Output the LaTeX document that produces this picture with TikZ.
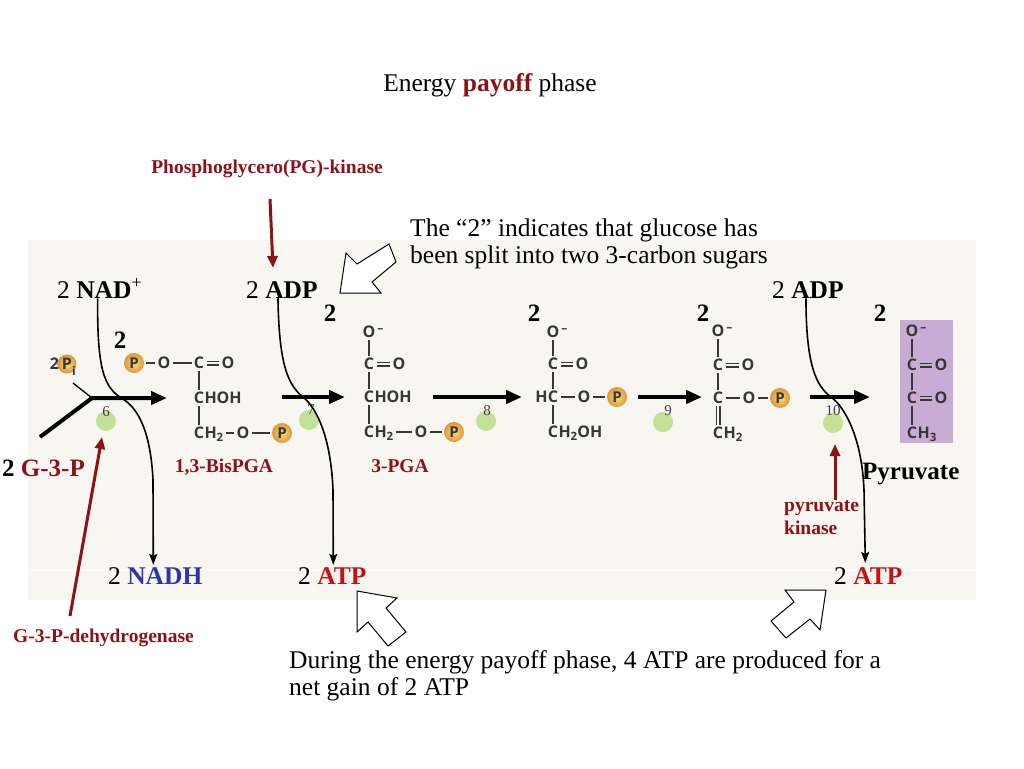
\documentclass[tikz,border=0pt]{standalone}
\usepackage{fontspec}
\setmainfont{Liberation Serif}
\newfontfamily\chemfont{Open Sans}
\usetikzlibrary{arrows.meta}
\definecolor{panelc}{RGB}{247,246,241}
\definecolor{darkred}{RGB}{140,18,24}
\definecolor{atpred}{RGB}{200,16,16}
\definecolor{nadhblue}{RGB}{52,52,170}
\definecolor{chemgray}{RGB}{55,55,55}
\definecolor{greenball}{RGB}{196,224,150}
\definecolor{purplebox}{RGB}{201,172,214}
\definecolor{pyel}{RGB}{250,222,120}
\definecolor{pora}{RGB}{222,150,60}
\newcommand{\chsub}[1]{\raisebox{-3pt}{\fontsize{11.5}{12}\selectfont #1}}
\newcommand{\chminus}{\rlap{\raisebox{5.5pt}{\fontsize{12}{12}\selectfont\,–}}}
\tikzset{
  atom/.style={font=\chemfont\bfseries\fontsize{16}{16}\selectfont, text=chemgray, inner sep=0pt, text height=11.4pt, text depth=0pt},
  pball/.style={circle, minimum size=20pt, inner sep=0pt, shading=radial, inner color=pyel, outer color=pora, font=\chemfont\bfseries\fontsize{15}{15}\selectfont, text=chemgray},
  gball/.style={circle, minimum size=20pt, inner sep=0pt, fill=greenball},
  bond/.style={line width=1.5pt, draw=chemgray, shorten <=2.2pt, shorten >=2.2pt},
  dbond/.style={line width=1.3pt, draw=chemgray, double=panelc, double distance=2.4pt, shorten <=2.2pt, shorten >=2.2pt},
  rxn/.style={line width=4pt, -{Triangle[length=16pt,width=13pt]}},
  curve/.style={line width=1.6pt, -{Stealth[length=11pt,width=8pt,inset=2pt]}},
  enz/.style={line width=3pt, draw=darkred, -{Triangle[length=12pt,width=10pt]}},
  txt/.style={inner sep=0pt, font=\fontsize{25.5}{27}\selectfont},
  lab/.style={inner sep=0pt, font=\bfseries\fontsize{19.5}{23}\selectfont, text=darkred},
  two/.style={inner sep=0pt, font=\bfseries\fontsize{25}{27}\selectfont},
  num/.style={inner sep=0pt, font=\fontsize{15}{15}\selectfont, text=black!75},
  hollow/.style={draw=black, line width=1pt, fill=white, line join=miter}
}
\begin{document}
\begin{tikzpicture}[x=1pt,y=-1pt]
\useasboundingbox (0,0) rectangle (1024,768);
\fill[white] (0,0) rectangle (1024,768);
\fill[panelc] (28,240) rectangle (976,600);
\fill[panelc!55!white] (28,569) rectangle (976,571);
\fill[purplebox] (900,320) rectangle (953,443);

% titles and notes
\node[txt, anchor=base] (title) at (490,91) {Energy \textbf{\textcolor{darkred}{payoff}} phase};
\node[lab, anchor=base] (pgk) at (267,173) {Phosphoglycero(PG)-kinase};
\node[txt, anchor=base west, align=left] (note1) at (410,263) {The “2” indicates that glucose has\\been split into two 3-carbon sugars};
\node[txt, anchor=base west, align=left] (note2) at (289,695) {During the energy payoff phase, 4 ATP are produced for a\\net gain of 2 ATP};

% cofactor labels
\node[txt, anchor=base west] (nad) at (57,298) {2 \textbf{NAD}\textsuperscript{+}};
\node[txt, anchor=base west] (adp1) at (246,298) {2 \textbf{ADP}};
\node[txt, anchor=base west] (adp2) at (772,298) {2 \textbf{ADP}};
\node[txt, anchor=base west] (nadh) at (108,584) {2 \textbf{\textcolor{nadhblue}{NADH}}};
\node[txt, anchor=base west] (atp1) at (298,584) {2 \textbf{\textcolor{atpred}{ATP}}};
\node[txt, anchor=base west] (atp2) at (834,584) {2 \textbf{\textcolor{atpred}{ATP}}};

% compound labels
\node[two, anchor=base west] (g3p) at (2,476) {2 \textcolor{darkred}{G-3-P}};
\node[lab, anchor=base] (bispga) at (224,472) {1,3-BisPGA};
\node[lab, anchor=base] (pga) at (400,472) {3-PGA};
\node[two, anchor=base west] (pyr) at (862,479) {Pyruvate};
\node[lab, anchor=base west, align=left, font=\bfseries\fontsize{19.5}{23}\selectfont] (pk) at (784,534) {pyruvate\\kinase};
\node[lab, anchor=base west] (g3pdh) at (13,642) {G-3-P-dehydrogenase};

% bold 2s
\node[two, anchor=base] (t0) at (120,348) {2};
\node[two, anchor=base] (t1) at (330,321) {2};
\node[two, anchor=base] (t2) at (534,321) {2};
\node[two, anchor=base] (t3) at (703,321) {2};
\node[two, anchor=base] (t4) at (880,321) {2};

% enzyme balls and step numbers
\node[gball] (g6) at (106,421) {};
\node[gball] (g7) at (309,420) {};
\node[gball] (g8) at (486,421) {};
\node[gball] (g9) at (663,422) {};
\node[gball] (g10) at (833,423) {};
\node[num] (n6) at (106,412) {6};
\node[num] (n7) at (311,410) {7};
\node[num] (n8) at (487,411) {8};
\node[num] (n9) at (668,411) {9};
\node[num] (n10) at (833,411) {10};

% 2 Pi
\node[pball, minimum size=19pt, font=\chemfont\bfseries\fontsize{16}{16}\selectfont] (pib) at (67,364) {P};
\node[atom, font=\chemfont\bfseries\fontsize{12}{12}\selectfont, text height=8pt] (pii) at (74,371) {i};
\node[atom, font=\chemfont\bfseries\fontsize{16}{16}\selectfont, anchor=east] (pi2) at ([xshift=2pt]pib.west) {2};

% reaction arrows
\coordinate (g3pin) at (40,437);
\coordinate (j6) at (92,398);
\coordinate (e6) at (167,398);
\coordinate (pistart) at (73,383);
\draw[line width=1.3pt] (pistart) -- (j6);
\draw[rxn, line join=miter] (g3pin) -- (j6) -- (e6);
\coordinate (s7) at (282,397); \coordinate (e7) at (345,397);
\coordinate (s8) at (433,397); \coordinate (e8) at (522,397);
\coordinate (s9) at (638,397); \coordinate (e9) at (702,397);
\coordinate (s10) at (810,397); \coordinate (e10) at (870,397);
\draw[rxn] (s7) -- (e7);
\draw[rxn] (s8) -- (e8);
\draw[rxn] (s9) -- (e9);
\draw[rxn] (s10) -- (e10);

% 1,3-BisPGA
\node[pball] (a_p1) at (134,363) {P};
\node[atom] (a_o1) at (164,363) {O};
\node[atom] (a_c1) at (199,363) {C};
\node[atom] (a_o2) at (228,363) {O};
\node[atom] (a_c2) at (199,398) {C};
\node[atom, anchor=west] (a_hoh) at (a_c2.east) {HOH};
\node[atom] (a_c3) at (199,433) {C};
\node[atom, anchor=west] (a_h2) at (a_c3.east) {H\chsub{2}};
\node[atom] (a_o3) at (243,433) {O};
\node[pball] (a_p2) at (282,433) {P};
\draw[bond] (a_p1) -- (a_o1);
\draw[bond] (a_o1) -- (a_c1);
\draw[dbond] (a_c1) -- (a_o2);
\draw[bond] (a_c1) -- (a_c2);
\draw[bond] (a_c2) -- (a_c3);
\draw[bond] (a_h2) -- (a_o3);
\draw[bond] (a_o3) -- (a_p2);

% 3-PGA
\node[atom] (b_om) at (369,332) {O\chminus};
\node[atom] (b_c1) at (369,364) {C};
\node[atom] (b_o1) at (399,364) {O};
\node[atom] (b_c2) at (369,397) {C};
\node[atom, anchor=west] (b_hoh) at (b_c2.east) {HOH};
\node[atom] (b_c3) at (369,432) {C};
\node[atom, anchor=west] (b_h2) at (b_c3.east) {H\chsub{2}};
\node[atom] (b_o2) at (421,432) {O};
\node[pball] (b_p) at (454,432) {P};
\draw[bond] (b_om) -- (b_c1);
\draw[dbond] (b_c1) -- (b_o1);
\draw[bond] (b_c1) -- (b_c2);
\draw[bond] (b_c2) -- (b_c3);
\draw[bond] (b_h2) -- (b_o2);
\draw[bond] (b_o2) -- (b_p);

% 2-PGA
\node[atom] (c_om) at (553,332) {O\chminus};
\node[atom] (c_c1) at (553,364) {C};
\node[atom] (c_o1) at (582,364) {O};
\node[atom] (c_c2) at (553,397) {C};
\node[atom, anchor=east] (c_h) at (c_c2.west) {H};
\node[atom] (c_o2) at (584,397) {O};
\node[pball] (c_p) at (617,397) {P};
\node[atom] (c_c3) at (553,432) {C};
\node[atom, anchor=west] (c_h2oh) at (c_c3.east) {H\chsub{2}OH};
\draw[bond] (c_om) -- (c_c1);
\draw[dbond] (c_c1) -- (c_o1);
\draw[bond] (c_c1) -- (c_c2);
\draw[bond] (c_c2) -- (c_o2);
\draw[bond] (c_o2) -- (c_p);
\draw[bond] (c_c2) -- (c_c3);

% PEP
\node[atom] (d_om) at (718,331) {O\chminus};
\node[atom] (d_c1) at (718,365) {C};
\node[atom] (d_o1) at (748,365) {O};
\node[atom] (d_c2) at (718,398) {C};
\node[atom] (d_o2) at (749,398) {O};
\node[pball] (d_p) at (780,398) {P};
\node[atom] (d_c3) at (718,433) {C};
\node[atom, anchor=west] (d_h2) at (d_c3.east) {H\chsub{2}};
\draw[bond] (d_om) -- (d_c1);
\draw[dbond] (d_c1) -- (d_o1);
\draw[bond] (d_c1) -- (d_c2);
\draw[bond] (d_c2) -- (d_o2);
\draw[bond] (d_o2) -- (d_p);
\draw[dbond] (d_c2) -- (d_c3);

% Pyruvate
\node[atom] (e_om) at (912,331) {O\chminus};
\node[atom] (e_c1) at (912,365) {C};
\node[atom] (e_o1) at (941,365) {O};
\node[atom] (e_c2) at (912,398) {C};
\node[atom] (e_o2) at (941,398) {O};
\node[atom] (e_c3) at (912,433) {C};
\node[atom, anchor=west] (e_h3) at (e_c3.east) {H\chsub{3}};
\draw[bond] (e_om) -- (e_c1);
\draw[dbond, double=purplebox] (e_c1) -- (e_o1);
\draw[bond] (e_c1) -- (e_c2);
\draw[dbond, double=purplebox] (e_c2) -- (e_o2);
\draw[bond] (e_c2) -- (e_c3);

% coupled curves
\draw[curve] ([xshift=-2pt]nad.south) .. controls (97,370) and (104,388) .. (123,399)
   .. controls (142,411) and (151,440) .. (153,480) -- ([xshift=-2pt,yshift=2pt]nadh.north);
\draw[curve] ([xshift=-4pt]adp1.south) .. controls (279,365) and (288,385) .. (303,397)
   .. controls (318,409) and (331,440) .. (333,490) -- ([xshift=1pt,yshift=2pt]atp1.north);
\draw[curve] ([xshift=-2pt]adp2.south) .. controls (806,365) and (816,386) .. (831,397)
   .. controls (846,408) and (862,440) .. (864,490) -- ([xshift=-3pt,yshift=4pt]atp2.north);

% enzyme arrows
\coordinate (pgks) at (270,199); \coordinate (pgke) at (273,268);
\coordinate (dhs) at (70,616); \coordinate (dhe) at (102,437);
\coordinate (pks) at (835,500); \coordinate (pke) at (835,444);
\draw[enz] (pgks) -- (pgke);
\draw[enz] (dhs) -- (dhe);
\draw[enz] (pks) -- (pke);

% hollow block arrows
\draw[hollow] (340,293) -- (381,293) -- (372,282) -- (396,262) -- (389,244) -- (357,264) -- (346,253) -- cycle;
\draw[hollow] (357,591) -- (397,598) -- (386,608) -- (406,632) -- (388,646) -- (368,622) -- (357,632) -- cycle;
\draw[hollow] (826,590) -- (820,630) -- (810,619) -- (786,638) -- (771,621) -- (794,602) -- (785,590) -- cycle;
\end{tikzpicture}
\end{document}
